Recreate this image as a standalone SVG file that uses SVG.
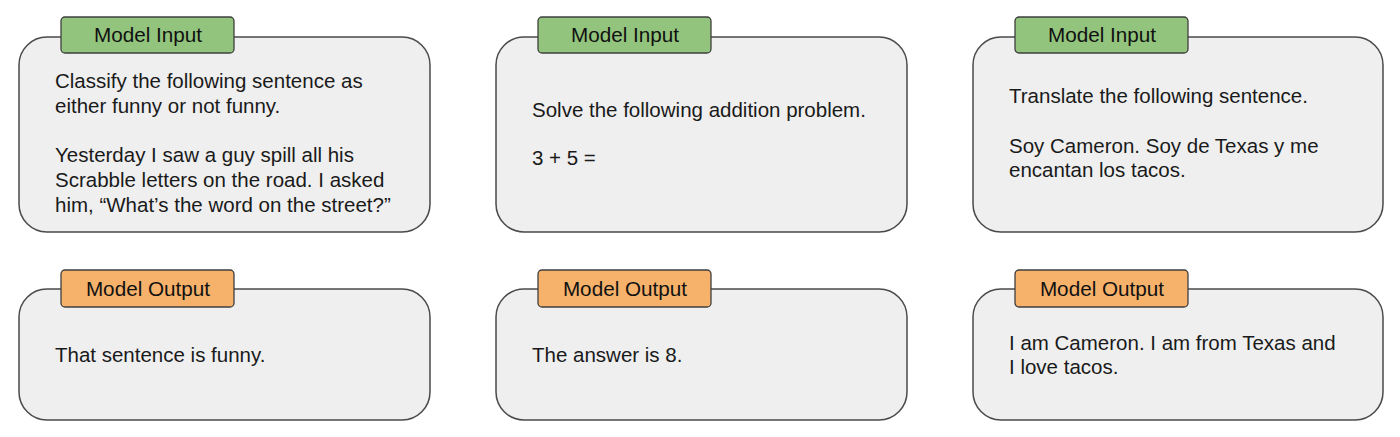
<svg xmlns="http://www.w3.org/2000/svg" width="1400" height="437" viewBox="0 0 1400 437">
<style>
.box{fill:#efefef;stroke:#4a4a4a;stroke-width:1.5}
.tin{fill:#93c47d;stroke:#3f3f3f;stroke-width:1.3}
.tout{fill:#f6b26b;stroke:#3f3f3f;stroke-width:1.3}
.lbl{font-family:"Liberation Sans",Arial,sans-serif;font-size:20.7px;fill:#111;text-anchor:middle}
.txt{font-family:"Liberation Sans",Arial,sans-serif;font-size:20.5px;fill:#1a1a1a}
</style>
<rect width="1400" height="437" fill="#ffffff"/>
<g id="input1">
<rect class="box" x="19" y="37" width="411" height="195" rx="28"/>
<rect class="tin" x="61" y="17" width="173" height="36" rx="4"/>
<text class="lbl" x="148" y="42">Model Input</text>
<text class="txt" x="55" y="88">Classify the following sentence as</text>
<text class="txt" x="55" y="113">either funny or not funny.</text>
<text class="txt" x="55" y="162">Yesterday I saw a guy spill all his</text>
<text class="txt" x="55" y="187">Scrabble letters on the road. I asked</text>
<text class="txt" x="55" y="212">him, “What’s the word on the street?”</text>
</g>
<g id="input2">
<rect class="box" x="496" y="37" width="411" height="195" rx="28"/>
<rect class="tin" x="538" y="17" width="173" height="36" rx="4"/>
<text class="lbl" x="625" y="42">Model Input</text>
<text class="txt" x="532" y="117">Solve the following addition problem.</text>
<text class="txt" x="532" y="165">3 + 5 =</text>
</g>
<g id="input3">
<rect class="box" x="973" y="37" width="410" height="195" rx="28"/>
<rect class="tin" x="1015" y="17" width="173" height="36" rx="4"/>
<text class="lbl" x="1102" y="42">Model Input</text>
<text class="txt" x="1009" y="103">Translate the following sentence.</text>
<text class="txt" x="1009" y="153">Soy Cameron. Soy de Texas y me</text>
<text class="txt" x="1009" y="177">encantan los tacos.</text>
</g>
<g id="output1">
<rect class="box" x="19" y="289" width="411" height="131" rx="28"/>
<rect class="tout" x="61" y="270" width="173" height="37" rx="4"/>
<text class="lbl" x="148" y="296">Model Output</text>
<text class="txt" x="55" y="362">That sentence is funny.</text>
</g>
<g id="output2">
<rect class="box" x="496" y="289" width="411" height="131" rx="28"/>
<rect class="tout" x="538" y="270" width="173" height="37" rx="4"/>
<text class="lbl" x="625" y="296">Model Output</text>
<text class="txt" x="532" y="362">The answer is 8.</text>
</g>
<g id="output3">
<rect class="box" x="973" y="289" width="410" height="131" rx="28"/>
<rect class="tout" x="1015" y="270" width="173" height="37" rx="4"/>
<text class="lbl" x="1102" y="296">Model Output</text>
<text class="txt" x="1009" y="350">I am Cameron. I am from Texas and</text>
<text class="txt" x="1009" y="374">I love tacos.</text>
</g>
<g id="connectors"/>
</svg>
